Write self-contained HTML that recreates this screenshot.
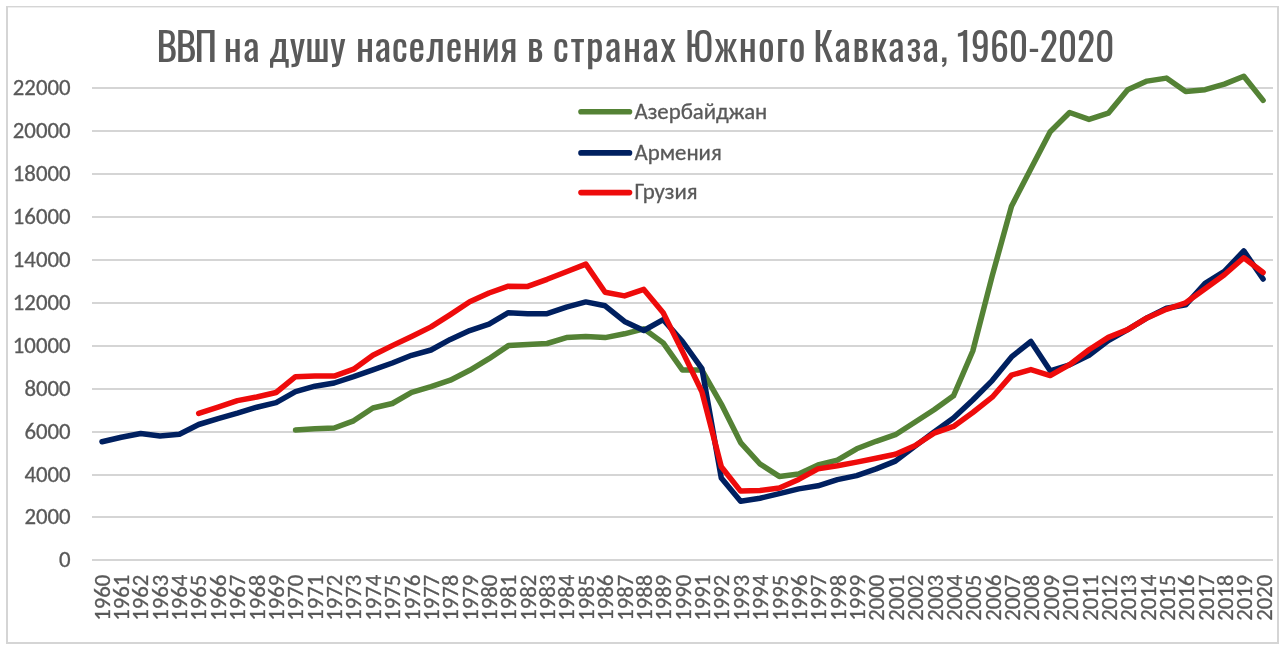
<!DOCTYPE html>
<html lang="ru"><head><meta charset="utf-8"><title>ВВП на душу населения в странах Южного Кавказа, 1960-2020</title>
<style>html,body{margin:0;padding:0;background:#fff;}svg{display:block;will-change:transform;}</style></head>
<body><svg width="1286" height="648" viewBox="0 0 1286 648">
<g fill="#d5d5d5"><rect x="6" y="6" width="1273" height="1.4"/><rect x="6" y="6" width="2" height="638"/><rect x="1277" y="6" width="2" height="638"/><rect x="6" y="642" width="1273" height="2"/></g>
<g stroke="#d5d5d5" stroke-width="2"><line x1="92" x2="1273" y1="560" y2="560"/><line x1="92" x2="1273" y1="517" y2="517"/><line x1="92" x2="1273" y1="475" y2="475"/><line x1="92" x2="1273" y1="432" y2="432"/><line x1="92" x2="1273" y1="389" y2="389"/><line x1="92" x2="1273" y1="346" y2="346"/><line x1="92" x2="1273" y1="303" y2="303"/><line x1="92" x2="1273" y1="260" y2="260"/><line x1="92" x2="1273" y1="217" y2="217"/><line x1="92" x2="1273" y1="174" y2="174"/><line x1="92" x2="1273" y1="131" y2="131"/><line x1="92" x2="1273" y1="88" y2="88"/></g>
<g font-family="Carlito, 'Liberation Sans', sans-serif" font-size="22.8" fill="#595959" stroke="#595959" stroke-width="0.3" text-anchor="end"><text x="70.6" y="567.0">0</text><text x="70.6" y="524.0">2000</text><text x="70.6" y="482.0">4000</text><text x="70.6" y="439.0">6000</text><text x="70.6" y="396.0">8000</text><text x="70.6" y="353.0">10000</text><text x="70.6" y="310.0">12000</text><text x="70.6" y="267.0">14000</text><text x="70.6" y="224.0">16000</text><text x="70.6" y="181.0">18000</text><text x="70.6" y="138.0">20000</text><text x="70.6" y="95.0">22000</text></g>
<g font-family="Carlito, 'Liberation Sans', sans-serif" font-size="22.8" fill="#595959" stroke="#595959" stroke-width="0.3" text-anchor="end"><text transform="translate(109.5,574.6) rotate(-90)">1960</text><text transform="translate(128.9,574.6) rotate(-90)">1961</text><text transform="translate(148.2,574.6) rotate(-90)">1962</text><text transform="translate(167.6,574.6) rotate(-90)">1963</text><text transform="translate(187.0,574.6) rotate(-90)">1964</text><text transform="translate(206.4,574.6) rotate(-90)">1965</text><text transform="translate(225.7,574.6) rotate(-90)">1966</text><text transform="translate(245.1,574.6) rotate(-90)">1967</text><text transform="translate(264.5,574.6) rotate(-90)">1968</text><text transform="translate(283.8,574.6) rotate(-90)">1969</text><text transform="translate(303.2,574.6) rotate(-90)">1970</text><text transform="translate(322.6,574.6) rotate(-90)">1971</text><text transform="translate(342.0,574.6) rotate(-90)">1972</text><text transform="translate(361.3,574.6) rotate(-90)">1973</text><text transform="translate(380.7,574.6) rotate(-90)">1974</text><text transform="translate(400.1,574.6) rotate(-90)">1975</text><text transform="translate(419.5,574.6) rotate(-90)">1976</text><text transform="translate(438.8,574.6) rotate(-90)">1977</text><text transform="translate(458.2,574.6) rotate(-90)">1978</text><text transform="translate(477.6,574.6) rotate(-90)">1979</text><text transform="translate(496.9,574.6) rotate(-90)">1980</text><text transform="translate(516.3,574.6) rotate(-90)">1981</text><text transform="translate(535.7,574.6) rotate(-90)">1982</text><text transform="translate(555.1,574.6) rotate(-90)">1983</text><text transform="translate(574.4,574.6) rotate(-90)">1984</text><text transform="translate(593.8,574.6) rotate(-90)">1985</text><text transform="translate(613.2,574.6) rotate(-90)">1986</text><text transform="translate(632.5,574.6) rotate(-90)">1987</text><text transform="translate(651.9,574.6) rotate(-90)">1988</text><text transform="translate(671.3,574.6) rotate(-90)">1989</text><text transform="translate(690.7,574.6) rotate(-90)">1990</text><text transform="translate(710.0,574.6) rotate(-90)">1991</text><text transform="translate(729.4,574.6) rotate(-90)">1992</text><text transform="translate(748.8,574.6) rotate(-90)">1993</text><text transform="translate(768.1,574.6) rotate(-90)">1994</text><text transform="translate(787.5,574.6) rotate(-90)">1995</text><text transform="translate(806.9,574.6) rotate(-90)">1996</text><text transform="translate(826.3,574.6) rotate(-90)">1997</text><text transform="translate(845.6,574.6) rotate(-90)">1998</text><text transform="translate(865.0,574.6) rotate(-90)">1999</text><text transform="translate(884.4,574.6) rotate(-90)">2000</text><text transform="translate(903.8,574.6) rotate(-90)">2001</text><text transform="translate(923.1,574.6) rotate(-90)">2002</text><text transform="translate(942.5,574.6) rotate(-90)">2003</text><text transform="translate(961.9,574.6) rotate(-90)">2004</text><text transform="translate(981.2,574.6) rotate(-90)">2005</text><text transform="translate(1000.6,574.6) rotate(-90)">2006</text><text transform="translate(1020.0,574.6) rotate(-90)">2007</text><text transform="translate(1039.4,574.6) rotate(-90)">2008</text><text transform="translate(1058.7,574.6) rotate(-90)">2009</text><text transform="translate(1078.1,574.6) rotate(-90)">2010</text><text transform="translate(1097.5,574.6) rotate(-90)">2011</text><text transform="translate(1116.8,574.6) rotate(-90)">2012</text><text transform="translate(1136.2,574.6) rotate(-90)">2013</text><text transform="translate(1155.6,574.6) rotate(-90)">2014</text><text transform="translate(1175.0,574.6) rotate(-90)">2015</text><text transform="translate(1194.3,574.6) rotate(-90)">2016</text><text transform="translate(1213.7,574.6) rotate(-90)">2017</text><text transform="translate(1233.1,574.6) rotate(-90)">2018</text><text transform="translate(1252.4,574.6) rotate(-90)">2019</text><text transform="translate(1271.8,574.6) rotate(-90)">2020</text></g>
<g fill="none" stroke-width="5.5" stroke-linejoin="round" stroke-linecap="round"><polyline stroke="#548235" points="295.5,430.1 314.9,428.8 334.2,428.0 353.6,420.8 372.9,408.0 392.3,403.5 411.6,392.4 431.0,386.7 450.3,380.2 469.7,370.3 489.0,358.7 508.4,345.6 527.7,344.4 547.1,343.5 566.4,337.6 585.8,336.4 605.1,337.6 624.5,333.8 643.8,328.8 663.2,342.9 682.5,370.1 701.9,370.1 721.3,404.1 740.6,442.6 760.0,464.0 779.3,476.4 798.7,473.9 818.0,464.9 837.4,460.1 856.7,448.8 876.1,441.3 895.4,434.7 914.8,422.2 934.1,409.7 953.5,395.8 972.8,351.0 992.2,275.9 1011.5,206.2 1030.9,168.8 1050.2,131.7 1069.6,112.5 1089.0,119.4 1108.3,113.2 1127.7,89.7 1147.0,81.1 1166.4,78.1 1185.7,91.5 1205.1,89.7 1224.4,84.1 1243.8,76.2 1263.1,100.4"/><polyline stroke="#002060" points="102.0,441.7 121.3,437.2 140.7,433.5 160.0,435.9 179.4,434.3 198.7,424.5 218.1,418.6 237.4,413.2 256.8,407.2 276.1,402.6 295.5,391.7 314.9,386.2 334.2,383.0 353.6,376.7 372.9,369.9 392.3,363.0 411.6,355.3 431.0,350.0 450.3,339.4 469.7,330.6 489.0,324.2 508.4,312.7 527.7,313.7 547.1,313.7 566.4,307.2 585.8,301.9 605.1,305.8 624.5,321.4 643.8,330.5 663.2,319.6 682.5,341.5 701.9,368.6 721.3,478.1 740.6,501.2 760.0,498.2 779.3,493.6 798.7,488.9 818.0,485.8 837.4,479.6 856.7,475.6 876.1,468.9 895.4,461.1 914.8,446.4 934.1,431.9 953.5,418.1 972.8,400.0 992.2,380.6 1011.5,356.9 1030.9,341.5 1050.2,370.8 1069.6,364.9 1089.0,355.4 1108.3,340.6 1127.7,329.7 1147.0,317.9 1166.4,308.2 1185.7,304.9 1205.1,283.3 1224.4,271.4 1243.8,250.9 1263.1,279.0"/><polyline stroke="#EE0B0B" points="198.7,413.4 218.1,407.2 237.4,400.6 256.8,397.0 276.1,392.5 295.5,376.7 314.9,375.9 334.2,376.1 353.6,369.2 372.9,355.3 392.3,345.6 411.6,336.4 431.0,326.9 450.3,314.6 469.7,301.8 489.0,293.0 508.4,286.2 527.7,286.4 547.1,279.3 566.4,271.7 585.8,264.1 605.1,292.2 624.5,295.9 643.8,289.4 663.2,312.7 682.5,351.6 701.9,391.7 721.3,466.8 740.6,491.1 760.0,490.4 779.3,488.0 798.7,479.4 818.0,468.9 837.4,465.8 856.7,462.1 876.1,458.2 895.4,454.2 914.8,445.8 934.1,433.2 953.5,426.4 972.8,412.5 992.2,397.2 1011.5,375.1 1030.9,369.6 1050.2,375.6 1069.6,364.7 1089.0,349.8 1108.3,337.4 1127.7,329.6 1147.0,317.9 1166.4,309.3 1185.7,302.8 1205.1,288.7 1224.4,274.7 1243.8,257.8 1263.1,272.5"/></g>
<line x1="581" x2="629.5" y1="111.8" y2="111.8" stroke="#548235" stroke-width="5.6" stroke-linecap="round"/>
<text x="634.5" y="118.9" font-family="Carlito, 'Liberation Sans', sans-serif" font-size="22.8" fill="#595959" stroke="#595959" stroke-width="0.3">Азербайджан</text>
<line x1="581" x2="629.5" y1="152.9" y2="152.9" stroke="#002060" stroke-width="5.6" stroke-linecap="round"/>
<text x="634.5" y="160.0" font-family="Carlito, 'Liberation Sans', sans-serif" font-size="22.8" fill="#595959" stroke="#595959" stroke-width="0.3">Армения</text>
<line x1="581" x2="629.5" y1="192.6" y2="192.6" stroke="#EE0B0B" stroke-width="5.6" stroke-linecap="round"/>
<text x="634.5" y="199.2" font-family="Carlito, 'Liberation Sans', sans-serif" font-size="22.8" fill="#595959" stroke="#595959" stroke-width="0.3">Грузия</text>
<g font-family="Oswald, 'Liberation Sans Narrow', 'Liberation Sans', sans-serif" font-weight="400" font-size="39.4" fill="#595959"><text x="156.4 175.7 194.6" y="61.9">ВВП</text><text x="223.70" y="61.9" textLength="35.80" lengthAdjust="spacing">на</text><text x="268.70" y="61.9" textLength="76.93" lengthAdjust="spacing">душу</text><text x="356.10" y="61.9" textLength="161.46" lengthAdjust="spacing">населения</text><text x="527.00" y="61.9" textLength="15.96" lengthAdjust="spacing">в</text><text x="552.80" y="61.9" textLength="123.11" lengthAdjust="spacing">странах</text><text x="685.00" y="61.9" textLength="120.52" lengthAdjust="spacing">Южного</text><text x="813.30" y="61.9" textLength="134.68" lengthAdjust="spacing">Кавказа,</text><text x="956.85" y="61.9" textLength="157.63" lengthAdjust="spacingAndGlyphs">1960-2020</text></g>
</svg></body></html>
